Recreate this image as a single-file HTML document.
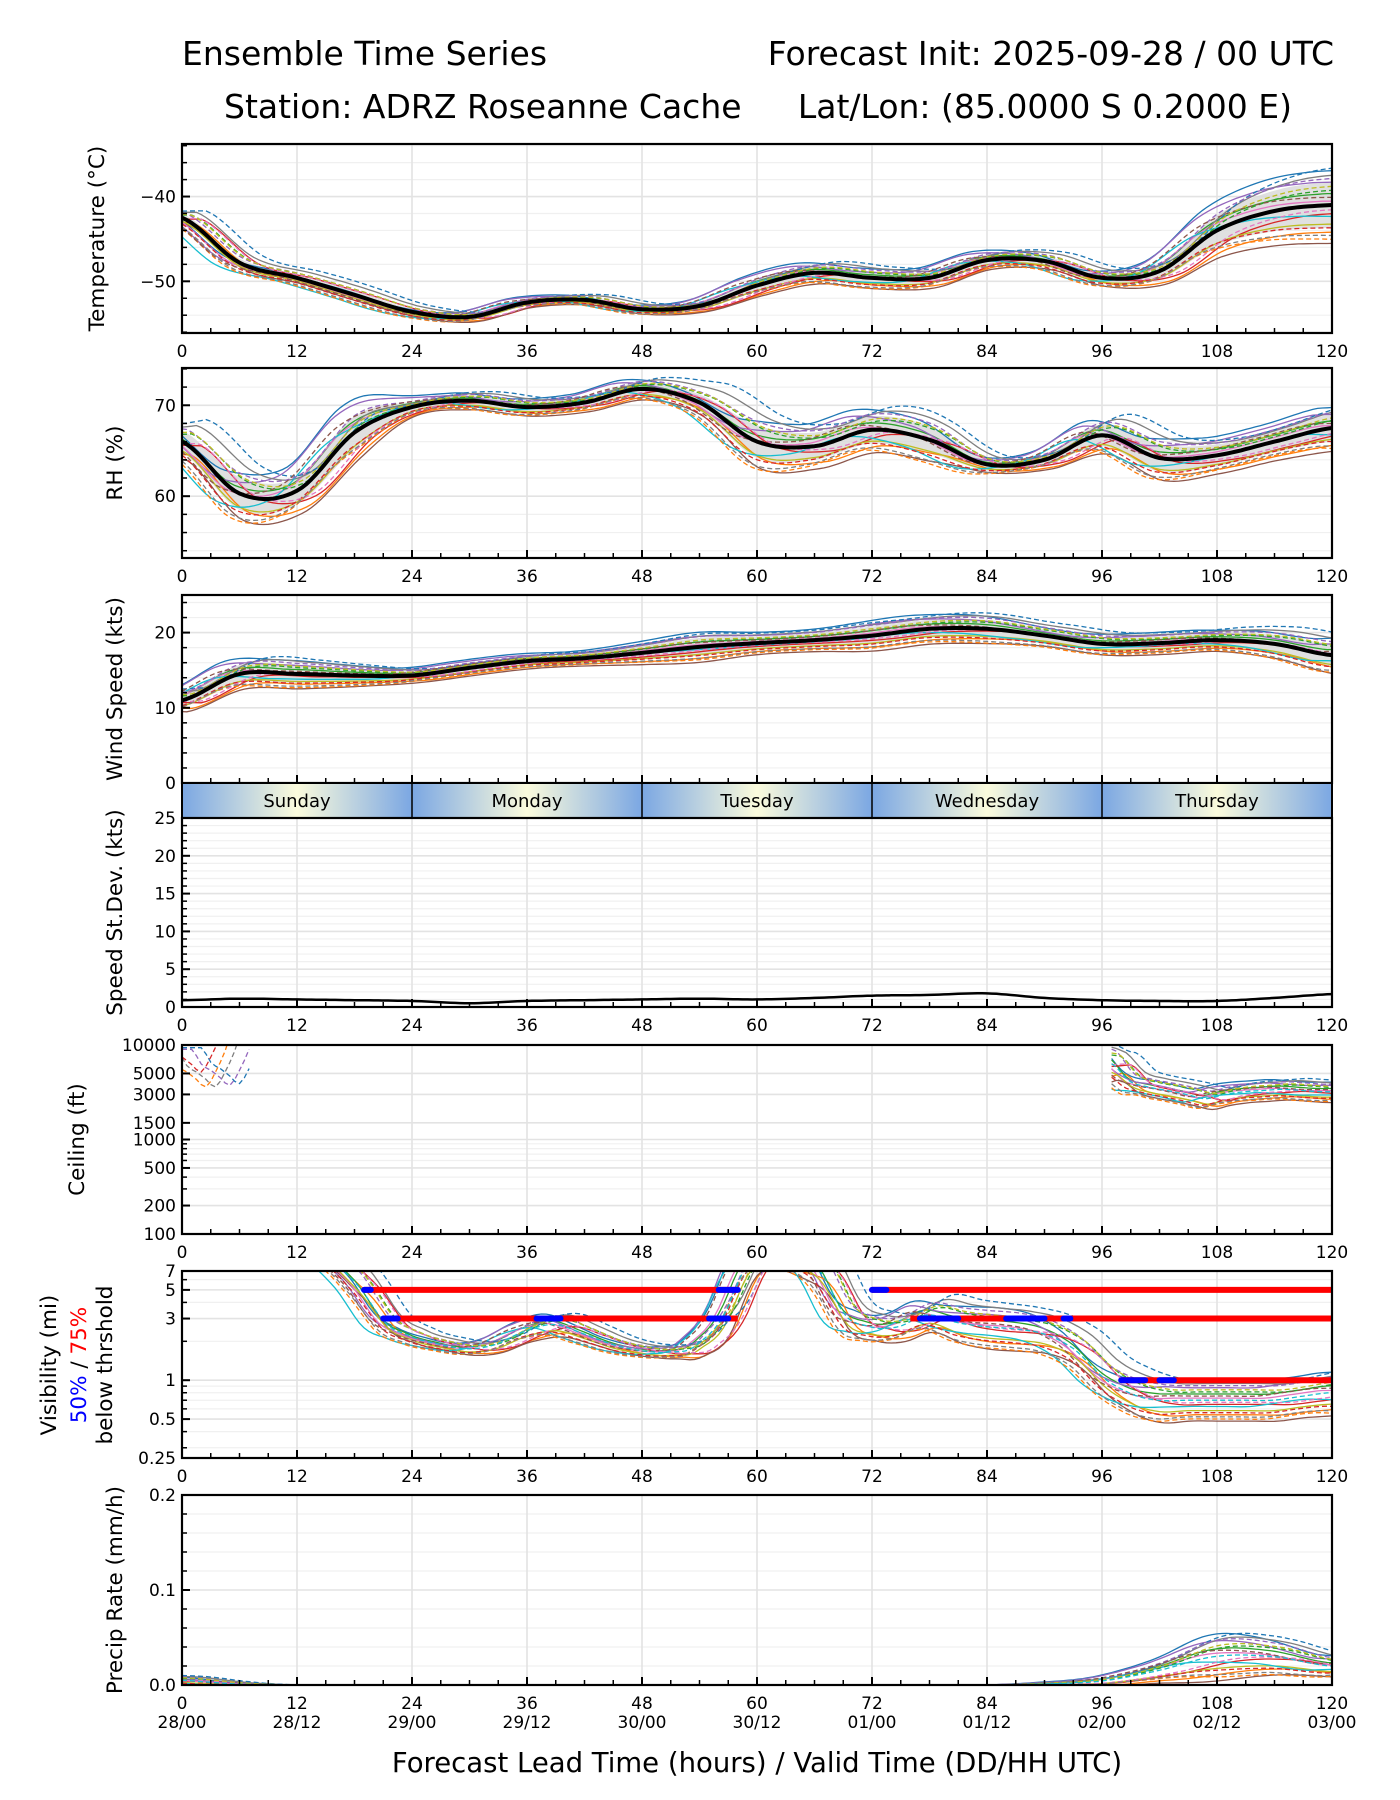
<!DOCTYPE html>
<html><head><meta charset="utf-8"><style>
html,body{margin:0;padding:0;background:#fff}
svg{display:block}
text{font-family:"DejaVu Sans","Liberation Sans",sans-serif;fill:#000}
</style></head><body>
<svg id="chart" width="1400" height="1800" viewBox="0 0 1400 1800" xmlns="http://www.w3.org/2000/svg">
<text x="182" y="65" font-size="33">Ensemble Time Series</text>
<text x="1334" y="65" font-size="33" text-anchor="end">Forecast Init: 2025-09-28 / 00 UTC</text>
<text x="224" y="118" font-size="33">Station: ADRZ Roseanne Cache</text>
<text x="1292" y="118" font-size="33" text-anchor="end">Lat/Lon: (85.0000 S 0.2000 E)</text>
<text x="757" y="1772" font-size="27.5" text-anchor="middle">Forecast Lead Time (hours) / Valid Time (DD/HH UTC)</text>
</svg>
<script>
// ---- data (6h steps 0..120) ----
const hours6 = [0,6,12,18,24,30,36,42,48,54,60,66,72,78,84,90,96,102,108,114,120];
const tempMean = [-42.5,-47.8,-49.6,-51.6,-53.6,-54.2,-52.5,-52.2,-53.3,-52.9,-50.5,-49.0,-49.6,-49.6,-47.5,-47.6,-49.6,-48.8,-44.0,-41.7,-41.0];
const tempSpread = [0.8,0.8,0.7,0.8,0.6,0.6,0.6,0.6,0.6,0.7,1.2,1.3,1.3,1.2,1.1,1.0,1.0,1.5,3.0,4.0,4.5];
const rhMean = [66,60.3,60.6,67,69.8,70.5,69.8,70.3,71.8,70.3,66,65.5,67.3,66.2,63.5,64,66.7,64.2,64.5,66,67.5];
const rhSpread = [2,3,2.5,3,1,1,1,1,1.2,1.5,3,2.5,2.5,2.5,1,1,2,2.5,2,2,2.5];
const windMean = [11,14.5,14.5,14.3,14.3,15.3,16.2,16.6,17.3,18.1,18.6,19,19.6,20.5,20.5,19.6,18.5,18.6,19,18.5,17];
const windSpread = [1.5,2,2,1.5,1,1,1,1,1.5,2,1.5,1.5,2,2,2,1.5,1.5,1.5,1.5,2,2.5];
const sdevValues = [0.9,1.1,1.0,0.9,0.8,0.5,0.8,0.9,1.0,1.1,1.0,1.2,1.5,1.6,1.8,1.2,0.9,0.8,0.8,1.2,1.7];
const precipMean = [0.005,0.001,0,0,0,0,0,0,0,0,0,0,0,0,0,0.001,0.004,0.015,0.03,0.03,0.02];
const precipSpread = [0.005,0.002,0,0,0,0,0,0,0,0,0,0,0,0,0,0.002,0.005,0.012,0.025,0.02,0.012];
// visibility (3h steps)
const visHours = [0,3,6,9,12,15,18,21,24,27,30,33,36,39,42,45,48,51,54,57,60,63,66,69,72,75,78,81,84,87,90,93,96,99,102,105,108,111,114,117,120];
const visMean = [9,9,9,9,9,9,6,3,2.2,1.9,1.75,1.9,2.4,2.7,2.3,1.9,1.7,1.65,1.9,3.5,9,9,8,3.5,2.6,2.6,3.2,2.8,2.6,2.5,2.3,1.8,1.1,0.8,0.7,0.7,0.7,0.7,0.7,0.75,0.8];
const visSpreadF = [1.2,1.2,1.2,1.2,1.2,1.2,1.3,1.2,1.15,1.12,1.12,1.15,1.2,1.25,1.2,1.15,1.12,1.12,1.2,1.4,1.3,1.3,1.5,1.4,1.3,1.3,1.35,1.45,1.5,1.5,1.45,1.4,1.4,1.45,1.5,1.45,1.45,1.45,1.45,1.45,1.5];
// threshold bars
const redBarStart = [19,72,21,76,98];
const redBarEnd = [58,120,58,120,120];
const redBarLevel = [5,5,3,3,1];
const blueBarStart = [19,56,72,21,37,55,77,86,92,98,102];
const blueBarEnd = [19.7,58,73.5,22.5,39.5,57,81,90,92.7,100.5,103.5];
const blueBarLevel = [5,5,5,3,3,3,3,3,3,1,1];
// ceiling
const ceilHours = [97,99,101,103,105,107,109,111,113,115,117,119,120];
const ceilMean = [6500,4200,3600,3300,3000,2700,3000,3200,3300,3400,3300,3200,3200];
const ceilEarlyHours = [0,1,2,3,4,5,6,7];
const ceilEarlyMean = [6000,4200,3600,3000,2500,3600,6000,11000];
// member weights and timing shifts (hours)
const memberW = [0.9,-0.7,0.3,-0.2,0.6,-1,0.1,0.8,-0.5,-0.3,1,-0.9,0.4,-0.6,0.7,0.2,-0.1,-0.8,0.5,0];
const memberShift = [1.5,-1,0.5,-2,2,-0.5,1,-1.5,0,2.5,-2.5,1,-1,0.5,-0.3,1.8,-1.8,0.8,-0.8,0.2];
const colors = ['#1f77b4','#ff7f0e','#2ca02c','#d62728','#9467bd','#8c564b','#e377c2','#7f7f7f','#bcbd22','#17becf'];
const days = ['Sunday','Monday','Tuesday','Wednesday','Thursday'];
const xTicks = [0,12,24,36,48,60,72,84,96,108,120];
const validLabels = ['28/00','28/12','29/00','29/12','30/00','30/12','01/00','01/12','02/00','02/12','03/00'];

const NS='http://www.w3.org/2000/svg';
const svg=document.getElementById('chart');
const L=182,R=1332;
const X=h=>L+h*(R-L)/120;
function mk(parent,tag,attrs,name){
  const el=document.createElementNS(NS,tag);
  for(const k in attrs) el.setAttribute(k,attrs[k]);
  
  
  parent.appendChild(el);return el;
}
function linScale(lo,hi,top,bot){return v=>bot-(v-lo)/(hi-lo)*(bot-top);}
function logScale(lo,hi,top,bot){const a=Math.log(lo),b=Math.log(hi);return v=>bot-(Math.log(v)-a)/(b-a)*(bot-top);}
// Catmull-Rom interpolation of data arrays
function interp(hs,vals,h){
  const n=hs.length;
  if(h<=hs[0]) return vals[0];
  if(h>=hs[n-1]) return vals[n-1];
  let i=0;while(hs[i+1]<h)i++;
  const t=(h-hs[i])/(hs[i+1]-hs[i]);
  const p0=vals[Math.max(i-1,0)],p1=vals[i],p2=vals[i+1],p3=vals[Math.min(i+2,n-1)];
  return 0.5*((2*p1)+(-p0+p2)*t+(2*p0-5*p1+4*p2-p3)*t*t+(-p0+3*p1-3*p2+p3)*t*t*t);
}
function dense(hs){const a=[];for(let h=hs[0];h<=hs[hs.length-1]+1e-9;h+=0.5)a.push(h);return a;}
let clipId=0;
function panel(name,top,bot,Y,majors,minors,labels,ylabel,ylabelX,showX){
  const g=mk(svg,'g',{},name);
  minors.forEach(v=>mk(g,'line',{x1:L,x2:R,y1:Y(v),y2:Y(v),stroke:'#f0f0f0','stroke-width':1.2},'minor-gridline'));
  for(let h=0;h<=120;h+=12) mk(g,'line',{x1:X(h),x2:X(h),y1:top,y2:bot,stroke:'#e3e3e3','stroke-width':1.6},'x-gridline');
  majors.forEach(v=>mk(g,'line',{x1:L,x2:R,y1:Y(v),y2:Y(v),stroke:'#e3e3e3','stroke-width':1.6},'y-gridline'));
  const cid='c'+(clipId++);
  const cp=mk(svg,'clipPath',{id:cid},'clip');
  mk(cp,'rect',{x:L,y:top,width:R-L,height:bot-top},'clip-rect');
  const data=mk(g,'g',{'clip-path':'url(#'+cid+')'},'series-group');
  for(let h=0;h<=120;h+=3){const mj=h%12===0;mk(g,'line',{x1:X(h),x2:X(h),y1:bot,y2:bot-(mj?8:5),stroke:'#000','stroke-width':mj?2:1.5},'x-tick');}
  minors.forEach(v=>mk(g,'line',{x1:L,x2:L+5,y1:Y(v),y2:Y(v),stroke:'#000','stroke-width':1.5},'y-minor-tick'));
  majors.forEach((v,i)=>{mk(g,'line',{x1:L,x2:L+8,y1:Y(v),y2:Y(v),stroke:'#000','stroke-width':2},'y-tick');
    const t=mk(g,'text',{x:L-6,y:Y(v)+6,'font-size':17,'text-anchor':'end'},'y-tick-label');t.textContent=labels[i];});
  if(showX) xTicks.forEach(h=>{const t=mk(g,'text',{x:X(h),y:bot+24,'font-size':17,'text-anchor':'middle'},'x-tick-label');t.textContent=h;});
  if(ylabel){const t=mk(g,'text',{x:ylabelX,y:(top+bot)/2,'font-size':21.5,'text-anchor':'middle',transform:'rotate(-90 '+ylabelX+' '+(top+bot)/2+')'},'y-axis-title');t.textContent=ylabel;}
  mk(g,'rect',{x:L,y:top,width:R-L,height:bot-top,fill:'none',stroke:'#000','stroke-width':2.2},'plot-frame');
  return data;
}
function polyFrom(hs,fn,Y){return dense(hs).map(h=>X(h).toFixed(1)+','+Y(fn(h)).toFixed(1)).join(' ');}
function members(g,hs,mean,spread,Y,mode,clipMin){
  memberW.forEach((w,m)=>{
    const sh=memberShift[m];
    const fn=h=>{const hh=Math.min(Math.max(h+sh,hs[0]),hs[hs.length-1]);
      const v=interp(hs,mean,hh),s=interp(hs,spread,h);
      let r=mode==='log'?Math.max(v,0.01)*Math.pow(s,w):v+w*s;
      if(clipMin!=null)r=Math.max(r,clipMin);return r;};
    const pl=mk(g,'polyline',{points:polyFrom(hs,fn,Y),fill:'none',stroke:colors[m%10],'stroke-width':1.3},'member-line');
    if(m>=10) pl.setAttribute('stroke-dasharray','5,3');
  });
}
function band(g,hs,mean,spread,Y){
  const dh=dense(hs);
  const up=dh.map(h=>X(h)+','+Y(interp(hs,mean,h)+interp(hs,spread,h)*0.6));
  const dn=dh.map(h=>X(h)+','+Y(interp(hs,mean,h)-interp(hs,spread,h)*0.6)).reverse();
  mk(g,'polygon',{points:up.concat(dn).join(' '),fill:'#d8d8d8',opacity:0.8},'spread-band');
}
function meanLine(g,hs,mean,Y){mk(g,'polyline',{points:polyFrom(hs,h=>interp(hs,mean,h),Y),fill:'none',stroke:'#000','stroke-width':4,'stroke-linejoin':'round'},'ensemble-mean-line');}

// Temperature
let Yt=linScale(-56.1,-33.8,144,333);
let g=panel('temperature-panel',144,333,Yt,[-50,-40],[-56,-54,-52,-48,-46,-44,-42,-38,-36,-34],['−50','−40'],'Temperature (°C)',104,true);
band(g,hours6,tempMean,tempSpread,Yt);members(g,hours6,tempMean,tempSpread,Yt,'lin');meanLine(g,hours6,tempMean,Yt);
// RH
let Yr=linScale(53.2,74.1,368,558);
g=panel('rh-panel',368,558,Yr,[60,70],[54,56,58,62,64,66,68,72,74],['60','70'],'RH (%)',122,true);
band(g,hours6,rhMean,rhSpread,Yr);members(g,hours6,rhMean,rhSpread,Yr,'lin');meanLine(g,hours6,rhMean,Yr);
// Wind
let Yw=linScale(0,25,595,783);
g=panel('wind-panel',595,783,Yw,[0,10,20],[2,4,6,8,12,14,16,18,22,24],['0','10','20'],'Wind Speed (kts)',122,false);
band(g,hours6,windMean,windSpread,Yw);members(g,hours6,windMean,windSpread,Yw,'lin');meanLine(g,hours6,windMean,Yw);
// Day band
const defs=mk(svg,'defs',{},'defs');
const lg=mk(defs,'linearGradient',{id:'dayg',x1:0,x2:1,y1:0,y2:0},'day-gradient');
[['0','#7ba7e3'],['0.5','#fbfbdc'],['1','#7ba7e3']].forEach(s=>mk(lg,'stop',{offset:s[0],'stop-color':s[1]},'gradient-stop'));
days.forEach((d,i)=>{
  mk(svg,'rect',{x:X(i*24),y:783,width:X(24)-X(0),height:35,fill:'url(#dayg)'},'day-band-'+d.toLowerCase());
  const t=mk(svg,'text',{x:X(i*24+12),y:807,'font-size':18,'text-anchor':'middle'},'day-label');t.textContent=d;
  if(i>0) mk(svg,'line',{x1:X(i*24),x2:X(i*24),y1:783,y2:818,stroke:'#000','stroke-width':1.5},'day-separator');
});
mk(svg,'rect',{x:L,y:783,width:R-L,height:35,fill:'none',stroke:'#000','stroke-width':2},'day-band-frame');
// StDev
let Ys=linScale(0,25,818,1007);
const sMin=[];for(let v=1;v<25;v++) if(v%5) sMin.push(v);
g=panel('stdev-panel',818,1007,Ys,[0,5,10,15,20,25],sMin,['0','5','10','15','20','25'],'Speed St.Dev. (kts)',122,true);
mk(g,'polyline',{points:polyFrom(hours6,h=>interp(hours6,sdevValues,h),Ys),fill:'none',stroke:'#000','stroke-width':2.5},'stdev-line');
// Ceiling
let Yc=logScale(100,10000,1045,1234);
g=panel('ceiling-panel',1045,1234,Yc,[100,200,500,1000,1500,3000,5000,10000],[300,400,600,700,800,900],['100','200','500','1000','1500','3000','5000','10000'],'Ceiling (ft)',84,true);
const ceilSp=ceilMean.map((v,i)=>i===0?1.6:1.3);
members(g,ceilHours,ceilMean,ceilSp,Yc,'log');
const ceilEarlySp=ceilEarlyMean.map(()=>1.5);
memberW.slice(0,5).forEach((w,m)=>{
  const sh=memberShift[m];
  const fn=h=>interp(ceilEarlyHours,ceilEarlyMean,Math.max(0,h+sh))*Math.pow(1.5,Math.abs(w)+0.3*m);
  mk(g,'polyline',{points:polyFrom(ceilEarlyHours,fn,Yc),fill:'none',stroke:colors[(m*3+1)%10],'stroke-width':1.3,'stroke-dasharray':'5,3'},'ceiling-early-line');
});
// Visibility
let Yv=logScale(0.25,7,1271,1458);
g=panel('visibility-panel',1271,1458,Yv,[0.25,0.5,1,3,5,7],[0.3,0.4,0.6,0.7,0.8,0.9,2,4,6],['0.25','0.5','1','3','5','7'],null,0,true);
members(g,visHours,visMean,visSpreadF,Yv,'log');
redBarStart.forEach((s,i)=>mk(g,'line',{x1:X(s),x2:X(redBarEnd[i]),y1:Yv(redBarLevel[i]),y2:Yv(redBarLevel[i]),stroke:'#ff0000','stroke-width':6},'threshold-75-bar'));
blueBarStart.forEach((s,i)=>mk(g,'line',{x1:X(s),x2:X(blueBarEnd[i]),y1:Yv(blueBarLevel[i]),y2:Yv(blueBarLevel[i]),stroke:'#0000ff','stroke-width':6,'stroke-linecap':'round'},'threshold-50-bar'));
const vt1=mk(svg,'text',{x:56,y:1365,'font-size':21.5,'text-anchor':'middle',transform:'rotate(-90 56 1365)'},'y-axis-title');vt1.textContent='Visibility (mi)';
const vt2=mk(svg,'text',{x:86,y:1365,'font-size':21.5,'text-anchor':'middle',transform:'rotate(-90 86 1365)'},'y-axis-title-line2');
const ts1=mk(vt2,'tspan',{fill:'#0000ff'},'legend-50');ts1.textContent='50%';
const ts2=mk(vt2,'tspan',{},'legend-sep');ts2.textContent=' / ';
const ts3=mk(vt2,'tspan',{fill:'#ff0000'},'legend-75');ts3.textContent='75%';
const vt3=mk(svg,'text',{x:112,y:1365,'font-size':21.5,'text-anchor':'middle',transform:'rotate(-90 112 1365)'},'y-axis-title-line3');vt3.textContent='below thrshold';
// Precip
let Yp=linScale(0,0.2,1495,1685);
g=panel('precip-panel',1495,1685,Yp,[0,0.1,0.2],[0.02,0.04,0.06,0.08,0.12,0.14,0.16,0.18],['0.0','0.1','0.2'],'Precip Rate (mm/h)',122,true);
members(g,hours6,precipMean,precipSpread,Yp,'lin',0);
xTicks.forEach((h,i)=>{const t=mk(svg,'text',{x:X(h),y:1728,'font-size':17,'text-anchor':'middle'},'valid-time-label');t.textContent=validLabels[i];});
</script>
</body></html>
